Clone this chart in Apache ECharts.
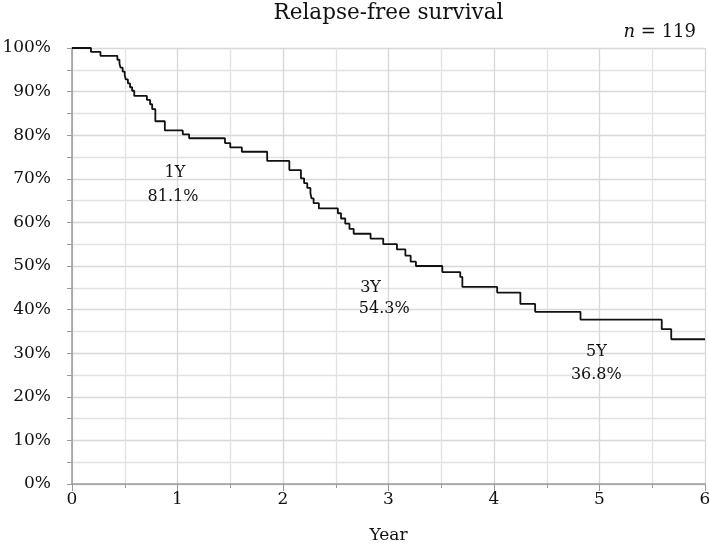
<!DOCTYPE html>
<html>
<head>
<meta charset="utf-8">
<script src="https://cdn.jsdelivr.net/npm/echarts@6/dist/echarts.min.js"></script>
<style>html,body{margin:0;padding:0;background:#fff}#c{width:709px;height:546px}</style>
</head>
<body>
<div id="c"></div>
<script>
// Kaplan-Meier step points: time (years) and survival (%) after each event
const times = [0, 0.18, 0.27, 0.43, 0.45, 0.46, 0.48, 0.50, 0.51, 0.53, 0.55, 0.57, 0.59,
  0.71, 0.74, 0.76, 0.79, 0.88, 1.05, 1.11, 1.45, 1.50, 1.61, 1.85, 2.06,
  2.17, 2.20, 2.23, 2.26, 2.27, 2.29, 2.34, 2.52, 2.55, 2.59, 2.63, 2.67,
  2.83, 2.95, 3.08, 3.16, 3.21, 3.26, 3.51, 3.68, 3.70, 4.03, 4.25, 4.39,
  4.82, 5.59, 5.68, 6.0];
const survival = [100, 99.1, 98.2, 97.3, 96.4, 95.5, 94.6, 93.7, 92.8, 91.9, 91.0, 90.2, 89.0,
  88.1, 87.1, 86.0, 83.2, 81.1, 80.2, 79.3, 78.2, 77.2, 76.2, 74.1, 72.0,
  70.1, 69.0, 67.9, 66.7, 65.5, 64.4, 63.2, 62.1, 60.9, 59.7, 58.5, 57.4,
  56.3, 55.0, 53.8, 52.4, 51.0, 50.0, 48.6, 47.5, 45.2, 43.9, 41.3, 39.5,
  37.7, 35.5, 33.2, 33.2];
const xTicks = [0, 1, 2, 3, 4, 5, 6];
const yTicks = [0, 10, 20, 30, 40, 50, 60, 70, 80, 90, 100];
// Annotations: [time, survival, text]
const annotations = [
  [0.976, 71.3, '1Y'], [0.957, 65.8, '81.1%'],
  [2.83, 44.9, '3Y'], [2.96, 40.1, '54.3%'],
  [4.97, 30.2, '5Y'], [4.97, 25.1, '36.8%']
];
const titleText = 'Relapse-free survival';
const nText = '119';
const xName = 'Year';

const serif = '"DejaVu Serif", "Liberation Serif", serif';
const ink = '#111';
const titleFont = '21.5px ' + serif;
const gridLeft = 72, gridRight = 4;
const cv = document.createElement('canvas').getContext('2d');
cv.font = titleFont;
const titleW = cv.measureText(titleText).width;
const plotCenter = gridLeft + (709 - gridLeft - gridRight) / 2;

const chart = echarts.init(document.getElementById('c'));
chart.setOption({
  animation: false,
  backgroundColor: '#fff',
  textStyle: { fontFamily: serif, color: ink },
  title: [
    { text: '{i|n} = ' + nText, right: 8, top: 18,
      textStyle: { fontFamily: serif, fontWeight: 'normal', fontSize: 18, color: ink,
        rich: { i: { fontStyle: 'italic', fontFamily: serif, fontSize: 18, color: ink } } } }
  ],
  graphic: [
    { type: 'text', left: plotCenter - titleW / 2, top: 2, silent: true,
      style: { text: titleText, font: titleFont, fill: ink } }
  ],
  grid: { left: gridLeft, right: gridRight, top: 48, bottom: 62, containLabel: false,
    outerBoundsMode: 'none' },
  xAxis: {
    type: 'value', min: 0, max: 6, interval: 1,
    name: xName, nameLocation: 'middle', nameGap: 43,
    nameTextStyle: { fontFamily: serif, fontSize: 17, color: ink },
    axisLine: { show: true, onZero: false, lineStyle: { color: '#9a9a9a', width: 1.5 } },
    axisTick: { show: true, length: 7, lineStyle: { color: '#9a9a9a' } },
    minorTick: { show: true, splitNumber: 2, length: 4, lineStyle: { color: '#9a9a9a' } },
    axisLabel: { fontFamily: serif, fontSize: 17, color: ink, margin: 7,
      formatter: v => xTicks.includes(v) ? String(v) : '' },
    splitLine: { show: true, lineStyle: { color: '#d8d8d8', width: 1.3 } },
    minorSplitLine: { show: true, lineStyle: { color: '#e2e2e2', width: 1.3 } }
  },
  yAxis: {
    type: 'value', min: 0, max: 100, interval: 10,
    axisLine: { show: true, lineStyle: { color: '#9a9a9a', width: 1.5 } },
    axisTick: { show: true, length: 5, lineStyle: { color: '#9a9a9a' } },
    minorTick: { show: true, splitNumber: 2, length: 5, lineStyle: { color: '#9a9a9a' } },
    axisLabel: { fontFamily: serif, fontSize: 17, color: ink, margin: 21,
      formatter: v => yTicks.includes(v) ? v + '%' : '' },
    splitLine: { show: true, lineStyle: { color: '#d8d8d8', width: 1.3 } },
    minorSplitLine: { show: true, lineStyle: { color: '#e2e2e2', width: 1.3 } }
  },
  series: [
    { type: 'line', step: 'end', symbol: 'none',
      data: times.map((t, i) => [t, survival[i]]),
      lineStyle: { color: '#111', width: 1.8 } },
    { type: 'scatter', symbolSize: 0, silent: true,
      itemStyle: { color: ink },
      data: annotations.map(a => ({ value: [a[0], a[1]], name: a[2] })),
      label: { show: true, position: 'inside', formatter: p => p.name,
        fontFamily: serif, fontSize: 16, color: ink, opacity: 1,
        textBorderWidth: 0, textBorderColor: 'transparent' } }
  ]
});
</script>
</body>
</html>
